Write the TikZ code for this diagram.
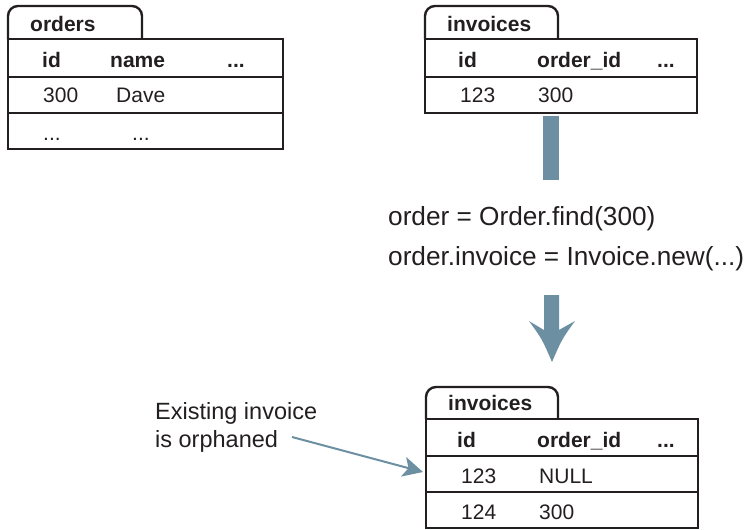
\documentclass[tikz,border=0pt]{standalone}
\usepackage{fontspec}
\setmainfont{Liberation Sans}
\usetikzlibrary{arrows.meta}
\definecolor{ink}{RGB}{35,31,32}
\definecolor{steel}{RGB}{108,144,161}
\tikzset{
  tbl/.style={draw=ink, line width=2.4pt},
  tabshape/.style={draw=ink, line width=2.4pt, rounded corners=10pt},
  hd/.style={anchor=base west, inner sep=0pt, text=ink, font=\fontsize{21}{25}\selectfont\bfseries},
  cell/.style={anchor=base west, inner sep=0pt, text=ink, font=\fontsize{21}{25}\selectfont},
  code/.style={anchor=base west, inner sep=0pt, text=ink, font=\fontsize{26.2}{30}\selectfont},
  note/.style={anchor=base west, inner sep=0pt, text=ink, font=\fontsize{23.5}{28}\selectfont},
  bigarrow/.style={fill=steel, draw=none},
  pointer/.style={draw=steel, line width=2pt, -{Stealth[length=20pt, width=20pt, inset=5pt]}}
}
\begin{document}
\begin{tikzpicture}[x=1pt, y=-1pt]
\useasboundingbox (0,0) rectangle (748,530);

% ---------- orders table ----------
\draw[tabshape] (8,39) -- (8,6) -- (142,6) -- (142,39);
\draw[tbl] (8,39) rectangle (283,149);
\draw[tbl] (8,77) -- (283,77);
\draw[tbl] (8,113) -- (283,113);
\node[hd] (ordT) at (30,31) {orders};
\node[hd] (ordH1) at (42,67) {id};
\node[hd] (ordH2) at (110,67) {name};
\node[hd] (ordH3) at (227,67) {...};
\node[cell] (ordR1a) at (43,102) {300};
\node[cell] (ordR1b) at (116,102) {Dave};
\node[cell] (ordR2a) at (43,140) {...};
\node[cell] (ordR2b) at (132,140) {...};

% ---------- invoices table (before) ----------
\draw[tabshape] (425,39) -- (425,6) -- (558,6) -- (558,39);
\draw[tbl] (425,39) rectangle (697,113);
\draw[tbl] (425,77) -- (697,77);
\node[hd] (invT) at (447,31) {invoices};
\node[hd] (invH1) at (458,67) {id};
\node[hd] (invH2) at (537,67) {order\_id};
\node[hd] (invH3) at (657,67) {...};
\node[cell] (invR1a) at (460,102) {123};
\node[cell] (invR1b) at (538,102) {300};

% ---------- first arrow (shaft) ----------
\fill[bigarrow] (543,116) rectangle (559,180);

% ---------- code ----------
\node[code] (code1) at (388,225) {order = Order.find(300)};
\node[code] (code2) at (388,265) {order.invoice = Invoice.new(...)};

% ---------- second arrow ----------
\fill[bigarrow] (544,295) -- (559,295) -- (559,330) -- (575,321)
  .. controls (562,339) .. (552,362)
  .. controls (542,339) .. (529,321)
  -- (544,330) -- cycle;

% ---------- invoices table (after) ----------
\draw[tabshape] (426,419) -- (426,387) -- (558,387) -- (558,419);
\draw[tbl] (426,419) rectangle (698,528);
\draw[tbl] (426,456) -- (698,456);
\draw[tbl] (426,492) -- (698,492);
\node[hd] (inv2T) at (448,410) {invoices};
\node[hd] (inv2H1) at (457,447) {id};
\node[hd] (inv2H2) at (537,447) {order\_id};
\node[hd] (inv2H3) at (657,447) {...};
\node[cell] (inv2R1a) at (461,483) {123};
\node[cell] (inv2R1b) at (539,483) {NULL};
\node[cell] (inv2R2a) at (461,519) {124};
\node[cell] (inv2R2b) at (539,519) {300};

% ---------- annotation ----------
\node[note] (note1) at (155,419) {Existing invoice};
\node[note] (note2) at (155,447) {is orphaned};
\coordinate (noteStart) at (292,437);
\coordinate (rowLeft) at (423,472);
\draw[pointer] (noteStart) -- (rowLeft);
\end{tikzpicture}
\end{document}
